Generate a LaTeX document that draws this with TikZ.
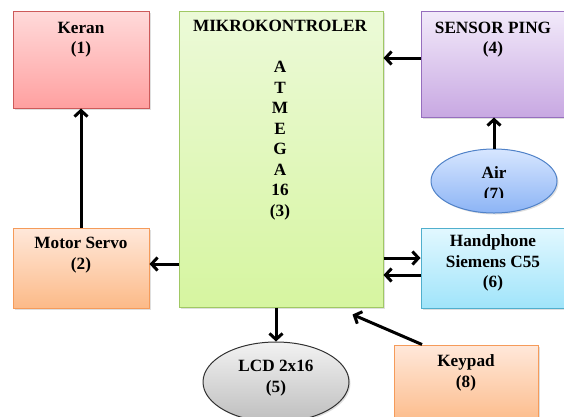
\documentclass[tikz,border=0pt]{standalone}
\usepackage{fontspec}
\setmainfont{Liberation Serif}
\usetikzlibrary{arrows.meta,shapes.geometric,shadows}
\definecolor{redT}{RGB}{255,218,218}\definecolor{redB}{RGB}{255,160,160}\definecolor{redD}{RGB}{205,90,90}
\definecolor{grnT}{RGB}{236,250,216}\definecolor{grnB}{RGB}{214,245,160}\definecolor{grnD}{RGB}{160,200,100}
\definecolor{purT}{RGB}{242,234,250}\definecolor{purB}{RGB}{200,168,226}\definecolor{purD}{RGB}{150,110,190}
\definecolor{bluT}{RGB}{215,230,255}\definecolor{bluB}{RGB}{140,180,245}\definecolor{bluD}{RGB}{80,130,200}
\definecolor{orgT}{RGB}{255,232,218}\definecolor{orgB}{RGB}{252,186,136}\definecolor{orgD}{RGB}{245,155,90}
\definecolor{cyaT}{RGB}{226,248,255}\definecolor{cyaB}{RGB}{160,228,250}\definecolor{cyaD}{RGB}{80,175,205}
\definecolor{gryT}{RGB}{242,242,242}\definecolor{gryB}{RGB}{190,190,190}\definecolor{gryD}{RGB}{50,50,50}
\begin{document}
\begin{tikzpicture}[x=1pt,y=-1pt,
  box/.style={rectangle,draw,line width=1pt,inner sep=0pt,
    drop shadow={shadow xshift=1.5pt,shadow yshift=-1.5pt,opacity=0.25}},
  oval/.style={ellipse,draw,line width=1pt,inner sep=0pt,
    drop shadow={shadow xshift=1.5pt,shadow yshift=-1.5pt,opacity=0.25}},
  txt/.style={align=center,inner sep=0pt,font=\fontsize{17.2}{20.5}\selectfont\bfseries},
  arr/.style={line width=3pt,-{Straight Barb[length=6pt,width=13pt]}}]
\useasboundingbox (0,0) rectangle (564,416);
\begin{scope}
\clip (0,0) rectangle (564,416);
\node[box,draw=redD,top color=redT,bottom color=redB,minimum width=136pt,minimum height=97pt] (keran) at (81,59.5) {};
\node[box,draw=grnD,top color=grnT,bottom color=grnB,minimum width=204pt,minimum height=296pt] (mikro) at (281,159) {};
\node[box,draw=purD,top color=purT,bottom color=purB,minimum width=144pt,minimum height=106pt] (sensor) at (493,64) {};
\node[oval,draw=bluD,top color=bluT,bottom color=bluB,minimum width=126pt,minimum height=64pt] (air) at (494,181) {};
\node[box,draw=orgD,top color=orgT,bottom color=orgB,minimum width=136pt,minimum height=80pt] (servo) at (81,268) {};
\node[box,draw=cyaD,top color=cyaT,bottom color=cyaB,minimum width=144pt,minimum height=80pt] (hp) at (493,268) {};
\node[oval,draw=gryD,top color=gryT,bottom color=gryB,minimum width=146pt,minimum height=80pt] (lcd) at (276,382) {};
\node[box,draw=orgD,top color=orgT,bottom color=orgB,minimum width=144pt,minimum height=80pt] (keypad) at (466,385) {};

\node[txt] (tkeran) at (81,39.5) {Keran\\(1)};
\node[txt] (tmikro) at (280,120) {MIKROKONTROLER\\\mbox{}\\A\\T\\M\\E\\G\\A\\16\\(3)};
\node[txt] (tsensor) at (493,39.5) {SENSOR PING\\(4)};
\begin{scope}
\clip (431,140) rectangle (557,197.5);
\node[txt] (tair) at (494,185) {Air\\(7)};
\end{scope}
\node[txt] (tservo) at (81,255) {Motor Servo\\(2)};
\node[txt] (thp) at (493,263) {Handphone\\Siemens C55\\(6)};
\node[txt] (tlcd) at (276,378) {LCD 2x16\\(5)};
\node[txt] (tkeypad) at (466,373) {Keypad\\(8)};

\coordinate (s1) at ([yshift=4pt]servo.east);
\coordinate (p1) at ([yshift=6pt]sensor.west);
\coordinate (h1) at ([yshift=10pt]hp.west);
\coordinate (h2) at ([yshift=-7pt]hp.west);
\coordinate (k1) at ([xshift=-44pt]keypad.north);
\coordinate (k2) at ([xshift=-31pt,yshift=-7pt]mikro.south east);

\draw[arr] (servo.north) -- (keran.south);
\draw[arr] (s1 -| mikro.west) -- (s1);
\draw[arr] (p1) -- (p1 -| mikro.east);
\draw[arr] (air.north) -- (air.north |- sensor.south);
\draw[arr] (h1 -| mikro.east) -- (h1);
\draw[arr] (h2) -- (h2 -| mikro.east);
\draw[arr] (lcd.north |- mikro.south) -- (lcd.north);
\draw[arr] (k1) -- (k2);
\end{scope}
\end{tikzpicture}
\end{document}
